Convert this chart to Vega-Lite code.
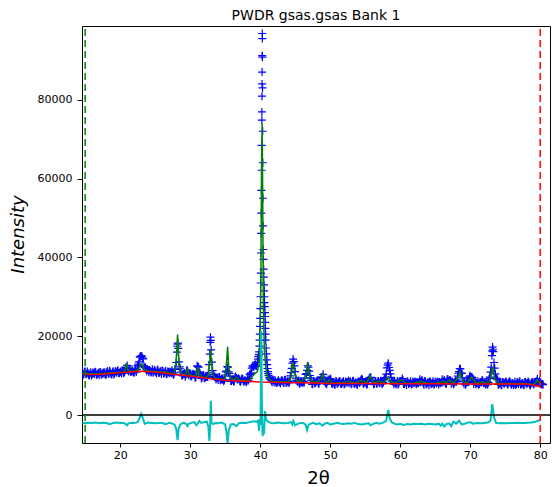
{
"$schema":"https://vega.github.io/schema/vega-lite/v6.json",
"width":468,"height":417,
"autosize":{"type":"none"},
"padding":{"left":82,"top":26,"right":2,"bottom":44},
"background":"white",
"title":{"text":"PWDR gsas.gsas Bank 1","fontSize":14,"fontWeight":"normal","font":"DejaVu Sans","color":"black","anchor":"middle","frame":"group","baseline":"alphabetic","offset":8,"dy":16},
"datasets":{
"obs":[
{"x":14.6,"y":10950},{"x":14.8,"y":10300},{"x":15.0,"y":11050},{"x":15.2,"y":10410},{"x":15.4,"y":10570},{"x":15.6,"y":10050},{"x":15.8,"y":10850},{"x":16.0,"y":10250},{"x":16.2,"y":10650},{"x":16.4,"y":10900},{"x":16.6,"y":10200},{"x":16.8,"y":10500},{"x":17.0,"y":10100},{"x":17.2,"y":10830},{"x":17.4,"y":10450},{"x":17.6,"y":10780},{"x":17.8,"y":10850},{"x":18.0,"y":10280},{"x":18.2,"y":11110},{"x":18.4,"y":10540},{"x":18.6,"y":10760},{"x":18.8,"y":10290},{"x":19.0,"y":11120},{"x":19.2,"y":10550},{"x":19.4,"y":10970},{"x":19.6,"y":11250},{"x":19.8,"y":10570},{"x":20.0,"y":10900},{"x":20.2,"y":10530},{"x":20.4,"y":11250},{"x":20.6,"y":10880},{"x":20.8,"y":11900},{"x":21.0,"y":12580},{"x":21.2,"y":11010},{"x":21.4,"y":11530},{"x":21.6,"y":10960},{"x":21.8,"y":11190},{"x":22.0,"y":10720},{"x":22.2,"y":11550},{"x":22.4,"y":11570},{"x":22.6,"y":12900},{"x":22.8,"y":14670},{"x":22.9,"y":14880},{"x":23.0,"y":14900},{"x":23.1,"y":14990},{"x":23.2,"y":14480},{"x":23.4,"y":12360},{"x":23.6,"y":12140},{"x":23.8,"y":11120},{"x":24.0,"y":11400},{"x":24.2,"y":11430},{"x":24.4,"y":10810},{"x":24.6,"y":11590},{"x":24.8,"y":10970},{"x":25.0,"y":11150},{"x":25.2,"y":10610},{"x":25.4,"y":11370},{"x":25.6,"y":10720},{"x":25.8,"y":11080},{"x":26.0,"y":11290},{"x":26.2,"y":10550},{"x":26.4,"y":10810},{"x":26.6,"y":10360},{"x":26.8,"y":11020},{"x":27.0,"y":10580},{"x":27.2,"y":10840},{"x":27.4,"y":11350},{"x":27.6,"y":10200},{"x":27.8,"y":11560},{"x":28.0,"y":13320},{"x":28.1,"y":15960},{"x":28.15,"y":17450},{"x":28.2,"y":18000},{"x":28.25,"y":18240},{"x":28.3,"y":16930},{"x":28.4,"y":13480},{"x":28.6,"y":11740},{"x":28.8,"y":10090},{"x":29.0,"y":10410},{"x":29.2,"y":10620},{"x":29.4,"y":10280},{"x":29.6,"y":11340},{"x":29.8,"y":10090},{"x":30.0,"y":10350},{"x":30.2,"y":9910},{"x":30.4,"y":10470},{"x":30.6,"y":10170},{"x":30.8,"y":9530},{"x":31.0,"y":12490},{"x":31.2,"y":12150},{"x":31.4,"y":10610},{"x":31.6,"y":9260},{"x":31.8,"y":10020},{"x":32.0,"y":9380},{"x":32.2,"y":9740},{"x":32.4,"y":9950},{"x":32.6,"y":10700},{"x":32.8,"y":15460},{"x":32.85,"y":18450},{"x":32.9,"y":19740},{"x":32.95,"y":18930},{"x":33.0,"y":16520},{"x":33.1,"y":13400},{"x":33.2,"y":11280},{"x":33.4,"y":9840},{"x":33.6,"y":9490},{"x":33.8,"y":9500},{"x":34.0,"y":8860},{"x":34.2,"y":9620},{"x":34.4,"y":8980},{"x":34.6,"y":9130},{"x":34.8,"y":8590},{"x":35.0,"y":10150},{"x":35.2,"y":11230},{"x":35.3,"y":12280},{"x":35.4,"y":12120},{"x":35.6,"y":10550},{"x":35.8,"y":8640},{"x":36.0,"y":8920},{"x":36.2,"y":8500},{"x":36.4,"y":9590},{"x":36.6,"y":9370},{"x":36.8,"y":9060},{"x":37.0,"y":9090},{"x":37.2,"y":8470},{"x":37.4,"y":9260},{"x":37.6,"y":8640},{"x":37.8,"y":8830},{"x":38.0,"y":8310},{"x":38.2,"y":9090},{"x":38.4,"y":9280},{"x":38.6,"y":10460},{"x":38.8,"y":11900},{"x":39.0,"y":12180},{"x":39.2,"y":12660},{"x":39.4,"y":12450},{"x":39.6,"y":13430},{"x":39.7,"y":14200},{"x":39.8,"y":15300},{"x":39.9,"y":17500},{"x":39.95,"y":20500},{"x":40.0,"y":24500},{"x":40.05,"y":30000},{"x":40.1,"y":36000},{"x":40.12,"y":41100},{"x":40.14,"y":46100},{"x":40.16,"y":51200},{"x":40.18,"y":57000},{"x":40.2,"y":62100},{"x":40.22,"y":68400},{"x":40.24,"y":74800},{"x":40.25,"y":76900},{"x":40.26,"y":80900},{"x":40.27,"y":84000},{"x":40.28,"y":87000},{"x":40.29,"y":91200},{"x":40.3,"y":96800},{"x":40.31,"y":95500},{"x":40.32,"y":90800},{"x":40.34,"y":83000},{"x":40.36,"y":72000},{"x":40.38,"y":64000},{"x":40.4,"y":55000},{"x":40.42,"y":48000},{"x":40.45,"y":42000},{"x":40.5,"y":37000},{"x":40.55,"y":33000},{"x":40.6,"y":30000},{"x":40.65,"y":27500},{"x":40.7,"y":25000},{"x":40.75,"y":22000},{"x":40.8,"y":19000},{"x":40.9,"y":15500},{"x":41.0,"y":12800},{"x":41.1,"y":11000},{"x":41.2,"y":10000},{"x":41.4,"y":9200},{"x":41.6,"y":8710},{"x":41.8,"y":8950},{"x":42.0,"y":8220},{"x":42.2,"y":8510},{"x":42.4,"y":8100},{"x":42.6,"y":8790},{"x":42.8,"y":8380},{"x":43.0,"y":8680},{"x":43.2,"y":8720},{"x":43.4,"y":8110},{"x":43.6,"y":8900},{"x":43.8,"y":8290},{"x":44.0,"y":8490},{"x":44.2,"y":8580},{"x":44.4,"y":10770},{"x":44.6,"y":13160},{"x":44.7,"y":14200},{"x":44.8,"y":13550},{"x":45.0,"y":11000},{"x":45.2,"y":8790},{"x":45.4,"y":8380},{"x":45.6,"y":7970},{"x":45.8,"y":8660},{"x":46.0,"y":8260},{"x":46.2,"y":8550},{"x":46.4,"y":9390},{"x":46.6,"y":10480},{"x":46.8,"y":12470},{"x":47.0,"y":11160},{"x":47.2,"y":9350},{"x":47.4,"y":7840},{"x":47.6,"y":8630},{"x":47.8,"y":8020},{"x":48.0,"y":8430},{"x":48.2,"y":8670},{"x":48.4,"y":7960},{"x":48.6,"y":8750},{"x":48.8,"y":9340},{"x":49.0,"y":10330},{"x":49.2,"y":8720},{"x":49.4,"y":8410},{"x":49.6,"y":8450},{"x":49.8,"y":8750},{"x":50.0,"y":9250},{"x":50.2,"y":8050},{"x":50.4,"y":8250},{"x":50.6,"y":7750},{"x":50.8,"y":8550},{"x":51.0,"y":7940},{"x":51.2,"y":8340},{"x":51.4,"y":8590},{"x":51.6,"y":7890},{"x":51.8,"y":8190},{"x":52.0,"y":7790},{"x":52.2,"y":8490},{"x":52.4,"y":8380},{"x":52.6,"y":8780},{"x":52.8,"y":8430},{"x":53.0,"y":7830},{"x":53.2,"y":8630},{"x":53.4,"y":8030},{"x":53.6,"y":8230},{"x":53.8,"y":7720},{"x":54.0,"y":8520},{"x":54.2,"y":8120},{"x":54.4,"y":8920},{"x":54.6,"y":8970},{"x":54.8,"y":7870},{"x":55.0,"y":8170},{"x":55.2,"y":7770},{"x":55.4,"y":8770},{"x":55.6,"y":9360},{"x":55.8,"y":9560},{"x":56.0,"y":8610},{"x":56.2,"y":7810},{"x":56.4,"y":8610},{"x":56.6,"y":8010},{"x":56.8,"y":8510},{"x":57.0,"y":8200},{"x":57.2,"y":8700},{"x":57.4,"y":7900},{"x":57.6,"y":8300},{"x":57.8,"y":9350},{"x":58.0,"y":10350},{"x":58.1,"y":11950},{"x":58.2,"y":12650},{"x":58.3,"y":13150},{"x":58.4,"y":12050},{"x":58.5,"y":11350},{"x":58.6,"y":10450},{"x":58.8,"y":8650},{"x":59.0,"y":8350},{"x":59.2,"y":8400},{"x":59.4,"y":7800},{"x":59.6,"y":8600},{"x":59.8,"y":8000},{"x":60.0,"y":8600},{"x":60.2,"y":8600},{"x":60.4,"y":8800},{"x":60.6,"y":7890},{"x":60.8,"y":8290},{"x":61.0,"y":8540},{"x":61.2,"y":7840},{"x":61.4,"y":8140},{"x":61.6,"y":7740},{"x":61.8,"y":8440},{"x":62.0,"y":8030},{"x":62.2,"y":8330},{"x":62.4,"y":8380},{"x":62.6,"y":8080},{"x":62.8,"y":9080},{"x":63.0,"y":8580},{"x":63.2,"y":8480},{"x":63.4,"y":7680},{"x":63.6,"y":8480},{"x":63.8,"y":7880},{"x":64.0,"y":8270},{"x":64.2,"y":8520},{"x":64.4,"y":7820},{"x":64.6,"y":8120},{"x":64.8,"y":7720},{"x":65.0,"y":8420},{"x":65.2,"y":8020},{"x":65.4,"y":8320},{"x":65.6,"y":8370},{"x":65.8,"y":8060},{"x":66.0,"y":9060},{"x":66.2,"y":8560},{"x":66.4,"y":8460},{"x":66.6,"y":7960},{"x":66.8,"y":9160},{"x":67.0,"y":8760},{"x":67.2,"y":8760},{"x":67.4,"y":8510},{"x":67.6,"y":7810},{"x":67.8,"y":8400},{"x":68.0,"y":8400},{"x":68.2,"y":9900},{"x":68.4,"y":11000},{"x":68.6,"y":11700},{"x":68.8,"y":10550},{"x":69.0,"y":8450},{"x":69.2,"y":8550},{"x":69.4,"y":7950},{"x":69.6,"y":8450},{"x":69.8,"y":8350},{"x":70.0,"y":9950},{"x":70.2,"y":9650},{"x":70.4,"y":9050},{"x":70.6,"y":8500},{"x":70.8,"y":7790},{"x":71.0,"y":8090},{"x":71.2,"y":7690},{"x":71.4,"y":8390},{"x":71.6,"y":8290},{"x":71.8,"y":8690},{"x":72.0,"y":8330},{"x":72.2,"y":7730},{"x":72.4,"y":8530},{"x":72.6,"y":8230},{"x":72.8,"y":9630},{"x":72.9,"y":10880},{"x":73.0,"y":12130},{"x":73.1,"y":15080},{"x":73.15,"y":16280},{"x":73.2,"y":17230},{"x":73.25,"y":16680},{"x":73.3,"y":16080},{"x":73.4,"y":13330},{"x":73.5,"y":11880},{"x":73.6,"y":10430},{"x":73.8,"y":9280},{"x":74.0,"y":7770},{"x":74.2,"y":8070},{"x":74.4,"y":7670},{"x":74.6,"y":8370},{"x":74.8,"y":7970},{"x":75.0,"y":8270},{"x":75.2,"y":8320},{"x":75.4,"y":7720},{"x":75.6,"y":8510},{"x":75.8,"y":7910},{"x":76.0,"y":8110},{"x":76.2,"y":7610},{"x":76.4,"y":8410},{"x":76.6,"y":7810},{"x":76.8,"y":8200},{"x":77.0,"y":8450},{"x":77.2,"y":7750},{"x":77.4,"y":8050},{"x":77.6,"y":7650},{"x":77.8,"y":8350},{"x":78.0,"y":7950},{"x":78.2,"y":8200},{"x":78.4,"y":8200},{"x":78.6,"y":7550},{"x":78.8,"y":8300},{"x":79.0,"y":7950},{"x":79.2,"y":8290},{"x":79.4,"y":8030},{"x":79.6,"y":9170},{"x":79.8,"y":8180},{"x":80.0,"y":8110},{"x":80.2,"y":7800},{"x":80.4,"y":7700},
{"x":14.7,"y":10280},{"x":14.9,"y":10980},{"x":15.1,"y":10380},{"x":15.3,"y":11040},{"x":15.5,"y":10200},{"x":15.7,"y":10600},{"x":15.9,"y":10000},{"x":16.1,"y":10800},{"x":16.3,"y":10400},{"x":16.5,"y":10950},{"x":16.7,"y":10250},{"x":16.9,"y":10700},{"x":17.1,"y":10915},{"x":17.3,"y":10190},{"x":17.5,"y":10565},{"x":17.7,"y":10440},{"x":17.9,"y":10215},{"x":18.1,"y":10995},{"x":18.3,"y":10475},{"x":18.5,"y":11200},{"x":18.7,"y":10425},{"x":18.9,"y":10855},{"x":19.1,"y":10285},{"x":19.3,"y":11110},{"x":19.5,"y":10735},{"x":19.7,"y":11310},{"x":19.9,"y":10635},{"x":20.1,"y":11115},{"x":20.3,"y":11340},{"x":20.5,"y":10615},{"x":20.7,"y":11290},{"x":20.9,"y":12065},{"x":21.1,"y":11345},{"x":21.3,"y":11420},{"x":21.5,"y":10895},{"x":21.7,"y":11625},{"x":21.9,"y":10855},{"x":22.1,"y":11285},{"x":22.3,"y":10910},{"x":22.5,"y":12535},{"x":22.7,"y":13460},{"x":23.3,"y":14220},{"x":23.5,"y":12000},{"x":23.7,"y":11730},{"x":23.9,"y":11610},{"x":24.1,"y":10840},{"x":24.3,"y":11170},{"x":24.5,"y":11000},{"x":24.7,"y":10730},{"x":24.9,"y":11460},{"x":25.1,"y":10880},{"x":25.3,"y":11540},{"x":25.5,"y":10695},{"x":25.7,"y":11050},{"x":25.9,"y":10410},{"x":26.1,"y":11170},{"x":26.3,"y":10730},{"x":26.5,"y":11235},{"x":26.7,"y":10490},{"x":26.9,"y":10900},{"x":27.1,"y":11060},{"x":27.3,"y":10570},{"x":27.5,"y":10775},{"x":27.7,"y":10380},{"x":27.9,"y":11590},{"x":28.5,"y":12210},{"x":28.7,"y":10865},{"x":28.9,"y":10000},{"x":29.1,"y":10340},{"x":29.3,"y":9700},{"x":29.5,"y":11260},{"x":29.7,"y":10815},{"x":29.9,"y":10520},{"x":30.1,"y":9780},{"x":30.3,"y":10190},{"x":30.5,"y":10345},{"x":30.7,"y":9550},{"x":30.9,"y":11060},{"x":31.1,"y":12270},{"x":31.3,"y":10880},{"x":31.5,"y":10085},{"x":31.7,"y":9490},{"x":31.9,"y":10150},{"x":32.1,"y":9310},{"x":32.3,"y":9670},{"x":32.5,"y":9625},{"x":32.7,"y":12780},{"x":33.3,"y":10260},{"x":33.5,"y":9765},{"x":33.7,"y":9020},{"x":33.9,"y":9430},{"x":34.1,"y":9590},{"x":34.3,"y":8800},{"x":34.5,"y":9105},{"x":34.7,"y":8910},{"x":34.9,"y":8920},{"x":35.1,"y":10940},{"x":35.5,"y":10960},{"x":35.7,"y":9845},{"x":35.9,"y":8630},{"x":36.1,"y":9010},{"x":36.3,"y":8595},{"x":36.5,"y":9780},{"x":36.7,"y":9065},{"x":36.9,"y":9300},{"x":37.1,"y":8580},{"x":37.3,"y":9015},{"x":37.5,"y":9200},{"x":37.7,"y":8435},{"x":37.9,"y":8770},{"x":38.1,"y":8600},{"x":38.3,"y":8735},{"x":38.5,"y":10270},{"x":38.7,"y":10705},{"x":38.9,"y":12490},{"x":39.1,"y":12270},{"x":39.3,"y":12855},{"x":39.5,"y":12440},{"x":39.75,"y":14800},{"x":39.85,"y":16000},{"x":39.92,"y":19000},{"x":39.98,"y":22500},{"x":40.03,"y":27000},{"x":40.08,"y":33500},{"x":40.47,"y":39500},{"x":40.52,"y":35000},{"x":40.58,"y":31500},{"x":40.62,"y":28500},{"x":40.68,"y":26000},{"x":40.72,"y":23500},{"x":40.78,"y":20500},{"x":40.85,"y":17000},{"x":40.95,"y":14000},{"x":41.05,"y":11800},{"x":41.15,"y":10500},{"x":41.3,"y":9500},{"x":41.5,"y":9015},{"x":41.7,"y":8305},{"x":41.9,"y":8735},{"x":42.1,"y":8915},{"x":42.3,"y":8155},{"x":42.5,"y":8500},{"x":42.7,"y":8340},{"x":42.9,"y":8085},{"x":43.1,"y":8825},{"x":43.3,"y":8265},{"x":43.5,"y":8955},{"x":43.7,"y":8145},{"x":43.9,"y":8540},{"x":44.1,"y":8135},{"x":44.3,"y":9930},{"x":44.5,"y":11825},{"x":44.9,"y":12460},{"x":45.1,"y":9345},{"x":45.3,"y":8585},{"x":45.5,"y":8780},{"x":45.7,"y":8020},{"x":45.9,"y":8360},{"x":46.1,"y":8205},{"x":46.3,"y":8250},{"x":46.5,"y":10290},{"x":46.7,"y":11330},{"x":46.9,"y":12125},{"x":47.1,"y":10020},{"x":47.3,"y":8810},{"x":47.5,"y":7800},{"x":47.7,"y":8590},{"x":47.9,"y":8185},{"x":48.1,"y":8725},{"x":48.3,"y":8015},{"x":48.5,"y":8660},{"x":48.7,"y":9650},{"x":48.9,"y":9595},{"x":49.1,"y":9435},{"x":49.3,"y":8080},{"x":49.5,"y":7820},{"x":49.7,"y":9060},{"x":49.9,"y":8905},{"x":50.1,"y":9000},{"x":50.3,"y":7900},{"x":50.5,"y":8300},{"x":50.7,"y":7700},{"x":50.9,"y":8490},{"x":51.1,"y":8090},{"x":51.3,"y":8640},{"x":51.5,"y":7940},{"x":51.7,"y":8390},{"x":51.9,"y":8590},{"x":52.1,"y":7840},{"x":52.3,"y":8280},{"x":52.5,"y":8330},{"x":52.7,"y":8080},{"x":52.9,"y":8530},{"x":53.1,"y":7980},{"x":53.3,"y":8680},{"x":53.5,"y":7880},{"x":53.7,"y":8270},{"x":53.9,"y":7670},{"x":54.1,"y":8470},{"x":54.3,"y":8570},{"x":54.5,"y":9220},{"x":54.7,"y":8120},{"x":54.9,"y":8370},{"x":55.1,"y":8570},{"x":55.3,"y":7820},{"x":55.5,"y":8960},{"x":55.7,"y":9510},{"x":55.9,"y":8560},{"x":56.1,"y":8510},{"x":56.3,"y":7960},{"x":56.5,"y":8660},{"x":56.7,"y":7960},{"x":56.9,"y":8650},{"x":57.1,"y":8050},{"x":57.3,"y":8450},{"x":57.5,"y":8050},{"x":57.7,"y":9000},{"x":57.9,"y":9500},{"x":58.7,"y":9550},{"x":58.9,"y":8550},{"x":59.1,"y":7800},{"x":59.3,"y":8150},{"x":59.5,"y":8000},{"x":59.7,"y":7750},{"x":59.9,"y":8500},{"x":60.1,"y":8650},{"x":60.3,"y":9250},{"x":60.5,"y":7840},{"x":60.7,"y":8240},{"x":60.9,"y":7640},{"x":61.1,"y":8440},{"x":61.3,"y":8040},{"x":61.5,"y":8590},{"x":61.7,"y":7890},{"x":61.9,"y":8330},{"x":62.1,"y":8530},{"x":62.3,"y":7780},{"x":62.5,"y":8130},{"x":62.7,"y":8380},{"x":62.9,"y":8330},{"x":63.1,"y":8880},{"x":63.3,"y":7930},{"x":63.5,"y":8630},{"x":63.7,"y":7830},{"x":63.9,"y":8220},{"x":64.1,"y":7620},{"x":64.3,"y":8420},{"x":64.5,"y":8020},{"x":64.7,"y":8570},{"x":64.9,"y":7870},{"x":65.1,"y":8320},{"x":65.3,"y":8520},{"x":65.5,"y":7770},{"x":65.7,"y":8110},{"x":65.9,"y":8360},{"x":66.1,"y":8310},{"x":66.3,"y":8860},{"x":66.5,"y":7910},{"x":66.7,"y":9010},{"x":66.9,"y":8610},{"x":67.1,"y":8910},{"x":67.3,"y":7910},{"x":67.5,"y":8410},{"x":67.7,"y":8000},{"x":67.9,"y":8850},{"x":68.1,"y":8850},{"x":68.3,"y":10600},{"x":68.5,"y":11800},{"x":68.7,"y":10650},{"x":68.9,"y":9400},{"x":69.1,"y":7950},{"x":69.3,"y":7700},{"x":69.5,"y":8450},{"x":69.7,"y":8300},{"x":69.9,"y":9700},{"x":70.1,"y":9500},{"x":70.3,"y":9500},{"x":70.5,"y":7900},{"x":70.7,"y":8390},{"x":70.9,"y":7990},{"x":71.1,"y":8540},{"x":71.3,"y":7840},{"x":71.5,"y":8290},{"x":71.7,"y":8890},{"x":71.9,"y":8040},{"x":72.1,"y":8080},{"x":72.3,"y":7930},{"x":72.5,"y":7680},{"x":72.7,"y":9230},{"x":73.7,"y":9280},{"x":73.9,"y":8980},{"x":74.1,"y":7770},{"x":74.3,"y":8170},{"x":74.5,"y":7570},{"x":74.7,"y":8370},{"x":74.9,"y":7970},{"x":75.1,"y":8520},{"x":75.3,"y":7820},{"x":75.5,"y":8260},{"x":75.7,"y":8460},{"x":75.9,"y":7710},{"x":76.1,"y":8060},{"x":76.3,"y":7910},{"x":76.5,"y":7660},{"x":76.7,"y":8400},{"x":76.9,"y":7850},{"x":77.1,"y":8550},{"x":77.3,"y":7750},{"x":77.5,"y":8150},{"x":77.7,"y":7550},{"x":77.9,"y":8350},{"x":78.1,"y":7925},{"x":78.3,"y":8425},{"x":78.5,"y":7675},{"x":78.7,"y":8075},{"x":78.9,"y":8325},{"x":79.1,"y":7720},{"x":79.3,"y":8410},{"x":79.5,"y":8600},{"x":79.7,"y":8275},{"x":79.9,"y":8600},{"x":80.1,"y":7800},{"x":80.3,"y":7900}
],
"calc":[
{"x":14.6,"y":10650},{"x":15.5,"y":10450},{"x":16.5,"y":10450},{"x":17.5,"y":10520},{"x":18.5,"y":10650},{"x":19.5,"y":10780},{"x":20.5,"y":10920},{"x":20.7,"y":11450},{"x":20.9,"y":13160},{"x":21.1,"y":11490},{"x":21.4,"y":11030},{"x":22.0,"y":11120},{"x":22.6,"y":11600},{"x":22.9,"y":12940},{"x":23.1,"y":12940},{"x":23.4,"y":11610},{"x":24.0,"y":11150},{"x":25.0,"y":11050},{"x":26.0,"y":10840},{"x":26.5,"y":11040},{"x":27.0,"y":10630},{"x":27.6,"y":10500},{"x":27.8,"y":10960},{"x":28.0,"y":13920},{"x":28.2,"y":20400},{"x":28.4,"y":13380},{"x":28.6,"y":10940},{"x":29.0,"y":10210},{"x":29.4,"y":10430},{"x":29.6,"y":11790},{"x":29.8,"y":10340},{"x":30.4,"y":9920},{"x":30.9,"y":10310},{"x":31.1,"y":12170},{"x":31.3,"y":10330},{"x":31.8,"y":9620},{"x":32.3,"y":9520},{"x":32.6,"y":10150},{"x":32.8,"y":13410},{"x":32.9,"y":16690},{"x":33.0,"y":14370},{"x":33.2,"y":10330},{"x":33.6,"y":9240},{"x":34.2,"y":9120},{"x":34.8,"y":8990},{"x":35.0,"y":9550},{"x":35.2,"y":13430},{"x":35.35,"y":17320},{"x":35.5,"y":12410},{"x":35.7,"y":9600},{"x":36.2,"y":8850},{"x":36.6,"y":9620},{"x":37.0,"y":8790},{"x":37.8,"y":8730},{"x":38.4,"y":8680},{"x":38.8,"y":9650},{"x":39.2,"y":10410},{"x":39.6,"y":11080},{"x":39.9,"y":13560},{"x":40.1,"y":33550},{"x":40.2,"y":63550},{"x":40.28,"y":74050},{"x":40.35,"y":58550},{"x":40.45,"y":28550},{"x":40.6,"y":16540},{"x":40.8,"y":12030},{"x":41.0,"y":10020},{"x":41.3,"y":9110},{"x":41.8,"y":8500},{"x":42.5,"y":8460},{"x":43.2,"y":8430},{"x":44.0,"y":8390},{"x":44.4,"y":9380},{"x":44.6,"y":12870},{"x":44.7,"y":13370},{"x":44.9,"y":10860},{"x":45.2,"y":8850},{"x":45.8,"y":8320},{"x":46.5,"y":9500},{"x":46.75,"y":13290},{"x":47.0,"y":10280},{"x":47.3,"y":8670},{"x":48.0,"y":8230},{"x":48.7,"y":9010},{"x":48.95,"y":10400},{"x":49.2,"y":8690},{"x":49.6,"y":8170},{"x":49.9,"y":8960},{"x":50.3,"y":8150},{"x":51.5,"y":8140},{"x":52.6,"y":8540},{"x":53.5,"y":8130},{"x":54.5,"y":8730},{"x":55.2,"y":8120},{"x":55.7,"y":9920},{"x":56.2,"y":8120},{"x":57.0,"y":8610},{"x":57.6,"y":8110},{"x":58.0,"y":8910},{"x":58.3,"y":9710},{"x":58.6,"y":8610},{"x":59.2,"y":8100},{"x":60.2,"y":8900},{"x":60.8,"y":8100},{"x":62.0,"y":8090},{"x":63.0,"y":8580},{"x":63.8,"y":8080},{"x":65.0,"y":8070},{"x":66.2,"y":8570},{"x":66.6,"y":8070},{"x":67.0,"y":8860},{"x":67.6,"y":8060},{"x":68.2,"y":9260},{"x":68.55,"y":10960},{"x":68.9,"y":8760},{"x":69.5,"y":8050},{"x":70.2,"y":9650},{"x":70.8,"y":8050},{"x":71.8,"y":8440},{"x":72.5,"y":8030},{"x":72.9,"y":9230},{"x":73.2,"y":12230},{"x":73.5,"y":9230},{"x":74.0,"y":8020},{"x":75.0,"y":8020},{"x":76.5,"y":8010},{"x":78.0,"y":8000},{"x":79.0,"y":7750},{"x":79.3,"y":8150},{"x":79.6,"y":8970},{"x":79.9,"y":7900},{"x":80.1,"y":7250}
],
"bkg":[
{"x":14.6,"y":10500},{"x":15.0,"y":10400},{"x":15.5,"y":10300},{"x":17.0,"y":10300},{"x":19.0,"y":10570},{"x":21.0,"y":10830},{"x":23.0,"y":11100},{"x":25.0,"y":10900},{"x":27.0,"y":10480},{"x":29.0,"y":10060},{"x":31.0,"y":9640},{"x":33.0,"y":9220},{"x":35.0,"y":8800},{"x":37.0,"y":8640},{"x":40.0,"y":8400},{"x":43.0,"y":8280},{"x":46.0,"y":8160},{"x":50.0,"y":8000},{"x":55.0,"y":7970},{"x":60.0,"y":7950},{"x":65.0,"y":7920},{"x":70.0,"y":7900},{"x":75.0,"y":7870},{"x":78.0,"y":7850},{"x":79.0,"y":7600},{"x":79.5,"y":7450},{"x":80.1,"y":7100}
],
"diff":[
{"x":14.6,"y":-1900},{"x":15.0,"y":-2100},{"x":15.5,"y":-1950},{"x":16.0,"y":-2050},{"x":16.5,"y":-1900},{"x":17.0,"y":-2100},{"x":17.5,"y":-1950},{"x":18.0,"y":-2050},{"x":18.5,"y":-2300},{"x":19.0,"y":-2000},{"x":19.5,"y":-1900},{"x":20.0,"y":-2050},{"x":20.5,"y":-2000},{"x":20.8,"y":-2300},{"x":21.0,"y":-2600},{"x":21.2,"y":-2100},{"x":21.6,"y":-1950},{"x":22.0,"y":-2050},{"x":22.5,"y":-1800},{"x":22.8,"y":-700},{"x":23.0,"y":300},{"x":23.2,"y":-600},{"x":23.5,"y":-2200},{"x":24.0,"y":-1900},{"x":24.5,"y":-2000},{"x":25.0,"y":-2100},{"x":25.5,"y":-2000},{"x":26.0,"y":-2050},{"x":26.5,"y":-2300},{"x":27.0,"y":-2000},{"x":27.5,"y":-2200},{"x":27.8,"y":-2500},{"x":28.0,"y":-3500},{"x":28.2,"y":-6400},{"x":28.35,"y":-3500},{"x":28.6,"y":-2400},{"x":29.0,"y":-2000},{"x":29.4,"y":-2200},{"x":29.6,"y":-2800},{"x":29.8,"y":-2200},{"x":30.2,"y":-2000},{"x":30.6,"y":-1800},{"x":30.9,"y":-2600},{"x":31.1,"y":-2100},{"x":31.3,"y":-1500},{"x":31.6,"y":-2000},{"x":32.0,"y":-1800},{"x":32.4,"y":-1700},{"x":32.6,"y":-3000},{"x":32.75,"y":-6600},{"x":32.85,"y":-3000},{"x":32.95,"y":3600},{"x":33.05,"y":-2000},{"x":33.3,"y":-2300},{"x":33.6,"y":-2000},{"x":34.0,"y":-2100},{"x":34.5,"y":-1900},{"x":35.0,"y":-2400},{"x":35.2,"y":-4500},{"x":35.35,"y":-7400},{"x":35.5,"y":-4000},{"x":35.8,"y":-2400},{"x":36.2,"y":-2300},{"x":36.6,"y":-2800},{"x":37.0,"y":-2000},{"x":37.5,"y":-1950},{"x":38.0,"y":-2000},{"x":38.5,"y":-1800},{"x":39.0,"y":-1600},{"x":39.5,"y":-1700},{"x":39.7,"y":-1500},{"x":39.85,"y":-4000},{"x":39.95,"y":-1000},{"x":40.05,"y":-2500},{"x":40.15,"y":21400},{"x":40.25,"y":3000},{"x":40.35,"y":-5400},{"x":40.45,"y":-3000},{"x":40.55,"y":-4900},{"x":40.7,"y":1000},{"x":40.85,"y":-1200},{"x":41.2,"y":-1800},{"x":41.6,"y":-2000},{"x":42.0,"y":-2100},{"x":42.5,"y":-1900},{"x":43.0,"y":-2000},{"x":43.5,"y":-2100},{"x":44.0,"y":-2000},{"x":44.4,"y":-1800},{"x":44.6,"y":-2400},{"x":44.75,"y":-1500},{"x":45.0,"y":-2600},{"x":45.4,"y":-2200},{"x":45.8,"y":-2000},{"x":46.2,"y":-2100},{"x":46.5,"y":-2500},{"x":46.7,"y":-3800},{"x":46.9,"y":-2600},{"x":47.2,"y":-2200},{"x":47.6,"y":-2000},{"x":48.0,"y":-2300},{"x":48.5,"y":-2100},{"x":48.9,"y":-2700},{"x":49.2,"y":-2200},{"x":49.6,"y":-2000},{"x":50.0,"y":-2400},{"x":50.5,"y":-2200},{"x":51.0,"y":-2000},{"x":51.5,"y":-2200},{"x":52.0,"y":-2300},{"x":52.5,"y":-2100},{"x":53.0,"y":-2200},{"x":53.5,"y":-2000},{"x":54.0,"y":-2300},{"x":54.5,"y":-2400},{"x":55.0,"y":-2200},{"x":55.5,"y":-2100},{"x":55.8,"y":-2600},{"x":56.2,"y":-2200},{"x":56.6,"y":-2000},{"x":57.0,"y":-2200},{"x":57.5,"y":-2000},{"x":58.0,"y":-1500},{"x":58.3,"y":1300},{"x":58.5,"y":-800},{"x":58.8,"y":-1900},{"x":59.2,"y":-2200},{"x":59.6,"y":-2400},{"x":60.0,"y":-2200},{"x":60.5,"y":-2500},{"x":61.0,"y":-2300},{"x":61.5,"y":-2400},{"x":62.0,"y":-2200},{"x":62.5,"y":-2300},{"x":63.0,"y":-2200},{"x":63.5,"y":-2400},{"x":64.0,"y":-2200},{"x":64.5,"y":-2300},{"x":65.0,"y":-2400},{"x":65.5,"y":-2200},{"x":65.8,"y":-2700},{"x":66.0,"y":-2200},{"x":66.3,"y":-2900},{"x":66.6,"y":-2300},{"x":67.0,"y":-2100},{"x":67.3,"y":-2800},{"x":67.6,"y":-1700},{"x":68.0,"y":-2200},{"x":68.4,"y":-1400},{"x":68.8,"y":-2400},{"x":69.2,"y":-2200},{"x":69.6,"y":-2000},{"x":70.0,"y":-1800},{"x":70.4,"y":-2200},{"x":70.8,"y":-2100},{"x":71.2,"y":-2000},{"x":71.6,"y":-2100},{"x":72.0,"y":-2000},{"x":72.5,"y":-1900},{"x":72.9,"y":-1500},{"x":73.15,"y":2800},{"x":73.4,"y":-600},{"x":73.7,"y":-2000},{"x":74.2,"y":-2100},{"x":74.7,"y":-2000},{"x":75.2,"y":-2100},{"x":75.7,"y":-2000},{"x":76.2,"y":-2050},{"x":76.7,"y":-1950},{"x":77.2,"y":-2000},{"x":77.7,"y":-2050},{"x":78.2,"y":-1950},{"x":78.7,"y":-1900},{"x":79.2,"y":-1800},{"x":79.6,"y":-1500},{"x":80.0,"y":-1300}
],
"limits":[{"x":15.0,"y":-7100,"limit":"lower"},{"x":15.0,"y":98700,"limit":"lower"},{"x":80.0,"y":-7100,"limit":"upper"},{"x":80.0,"y":98700,"limit":"upper"}],
"zero":[{"x":14.55,"y":0},{"x":81.4,"y":0}]
},
"encoding":{
  "x":{"field":"x","type":"quantitative","scale":{"domain":[14.55,81.4],"nice":false,"zero":false},
       "axis":{"title":"2θ","values":[20,30,40,50,60,70,80],"tickSize":4,"labelPadding":2,"titleX":236,"titleY":40,"titleBaseline":"alphabetic","titleAlign":"center"}},
  "y":{"field":"y","type":"quantitative","scale":{"domain":[-7100,98700],"nice":false,"zero":false},
       "axis":{"title":"Intensity","values":[0,20000,40000,60000,80000],"format":"d","tickSize":5,"labelPadding":5,"titleFontStyle":"italic","titleX":-64,"titleY":208,"titleAngle":-90,"titleBaseline":"middle","titleAlign":"center"}}
},
"layer":[
{"data":{"name":"obs"},
 "mark":{"type":"point","shape":"M-1,0L1,0M0,-1L0,1","size":64,"filled":false,"stroke":"#0000ff","strokeWidth":1.2,"opacity":1,"clip":true}},
{"data":{"name":"calc"},
 "mark":{"type":"line","color":"#008000","strokeWidth":1.5,"clip":true}},
{"data":{"name":"bkg"},
 "mark":{"type":"line","color":"#ff0000","strokeWidth":1.5,"clip":true}},
{"data":{"name":"diff"},
 "mark":{"type":"line","color":"#00bfbf","strokeWidth":2,"clip":true}},
{"data":{"name":"zero"},
 "mark":{"type":"line","color":"black","strokeWidth":1.5,"clip":true}},
{"data":{"name":"limits"},
 "mark":{"type":"line","strokeWidth":1.5,"strokeDash":[7,4],"clip":true},
 "encoding":{
  "detail":{"field":"limit","type":"nominal"},
  "color":{"field":"limit","type":"nominal","scale":{"domain":["lower","upper"],"range":["#008000","#ff0000"]},"legend":null}
 }}
],
"config":{
 "view":{"stroke":"black","strokeWidth":1},
 "axis":{"domain":false,"grid":false,"tickColor":"black","tickWidth":1,"labelColor":"black","labelFont":"DejaVu Sans","labelFontSize":11,"titleFont":"DejaVu Sans","titleFontWeight":"normal","titleColor":"black","titleFontSize":18}
}
}
